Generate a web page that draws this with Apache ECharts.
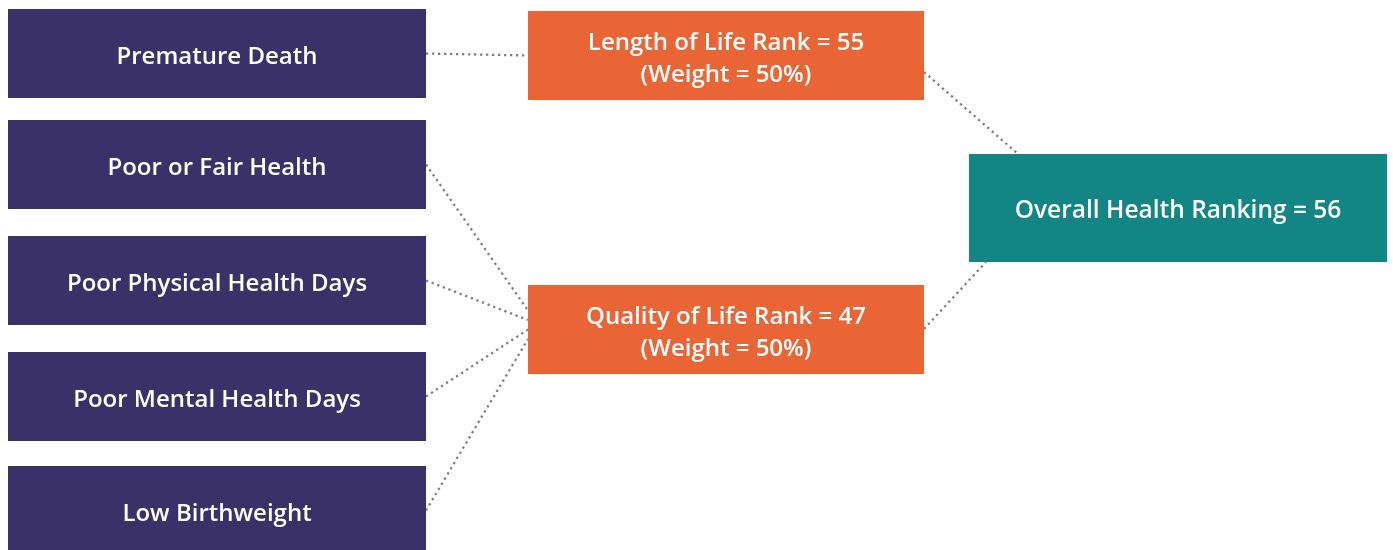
<!DOCTYPE html>
<html>
<head>
<meta charset="utf-8">
<script src="https://cdn.jsdelivr.net/npm/echarts@6/dist/echarts.min.js"></script>
<style>
  html, body { margin: 0; padding: 0; background: #fff; }
  #chart { width: 1393px; height: 550px; }
</style>
</head>
<body>
<div id="chart"></div>
<script>
// values
var factors = ['Premature Death', 'Poor or Fair Health', 'Poor Physical Health Days', 'Poor Mental Health Days', 'Low Birthweight']
var factorGroup = [0, 1, 1, 1, 1]
var measures = ['Length of Life', 'Quality of Life']
var measureRanks = [55, 47]
var measureWeights = [50, 50]
var overallLabel = 'Overall Health Ranking'
var overallRank = 56

// layout (pixels)
var W = 1393
var H = 550
var factorCol = { x: 8, w: 418, h: 89, tops: [9, 120, 236, 352, 466] }
var measureCol = { x: 528, w: 396, h: 89, tops: [11, 285] }
var overallBox = { x: 969, y: 154, w: 418, h: 108 }

var purple = '#3b3169'
var orange = '#e96535'
var teal = '#128584'
var font = '"Open Sans"'

var boxes = []
factors.forEach(function (name, i) {
  boxes.push({ x: factorCol.x, y: factorCol.tops[i], w: factorCol.w, h: factorCol.h, color: purple, text: name, size: 24, dy: 4 })
})
measures.forEach(function (name, i) {
  boxes.push({
    x: measureCol.x, y: measureCol.tops[i], w: measureCol.w, h: measureCol.h, color: orange,
    text: name + ' Rank = ' + measureRanks[i] + '\n(Weight = ' + measureWeights[i] + '%)', size: 24, dy: 4
  })
})
boxes.push({ x: overallBox.x, y: overallBox.y, w: overallBox.w, h: overallBox.h, color: teal, text: overallLabel + ' = ' + overallRank, size: 24.5, dy: 3 })

// connectors: factor -> measure
var links = []
var fanCount = [0, 0]
var fanTotal = [0, 0]
factorGroup.forEach(function (g) { fanTotal[g]++ })
factors.forEach(function (name, i) {
  var g = factorGroup[i]
  var sy = factorCol.tops[i] + factorCol.h / 2
  var ty = measureCol.tops[g] + measureCol.h / 2
  if (fanTotal[g] > 1) {
    ty = ty - 19 + fanCount[g] * 9.5
  }
  fanCount[g]++
  links.push([[factorCol.x + factorCol.w, sy], [measureCol.x, ty]])
})
// measure -> overall
links.push([[measureCol.x + measureCol.w, measureCol.tops[0] + 61], [overallBox.x + 49, overallBox.y]])
links.push([[measureCol.x + measureCol.w, measureCol.tops[1] + 44], [overallBox.x + 17, overallBox.y + overallBox.h]])

var myChart = echarts.init(document.getElementById('chart'))
myChart.setOption({
  animation: false,
  grid: { left: 0, right: 0, top: 0, bottom: 0 },
  xAxis: { type: 'value', min: 0, max: W, show: false },
  yAxis: { type: 'value', min: 0, max: H, inverse: true, show: false },
  series: [
    {
      type: 'lines',
      coordinateSystem: 'cartesian2d',
      polyline: false,
      silent: true,
      z: 1,
      lineStyle: { color: '#808080', width: 2.3, type: [2.3, 3.7], opacity: 1 },
      data: links.map(function (l) { return { coords: l } })
    },
    {
      type: 'custom',
      z: 2,
      silent: true,
      data: boxes.map(function (b, i) { return [i] }),
      renderItem: function (params, api) {
        var b = boxes[api.value(0)]
        var p0 = api.coord([b.x, b.y])
        var p1 = api.coord([b.x + b.w, b.y + b.h])
        return {
          type: 'group',
          children: [
            {
              type: 'rect',
              shape: { x: p0[0], y: p0[1], width: p1[0] - p0[0], height: p1[1] - p0[1] },
              style: { fill: b.color }
            },
            {
              type: 'text',
              x: (p0[0] + p1[0]) / 2,
              y: (p0[1] + p1[1]) / 2 + b.dy,
              style: {
                text: b.text,
                fill: '#ffffff',
                font: '600 ' + b.size + 'px ' + font,
                align: 'center',
                verticalAlign: 'middle',
                lineHeight: 32
              }
            }
          ]
        }
      }
    }
  ]
})
</script>
</body>
</html>
